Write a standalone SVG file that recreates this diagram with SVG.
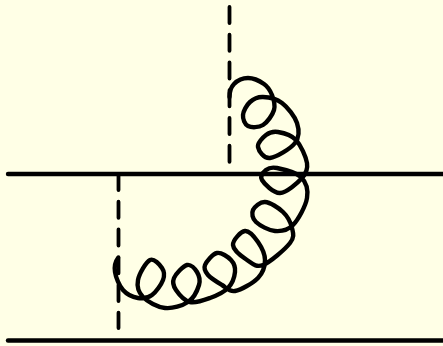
<svg xmlns="http://www.w3.org/2000/svg" width="443" height="346" viewBox="0 0 443 346">
<style>
.l{fill:none;stroke:#000;stroke-width:4.4;stroke-linecap:round;stroke-linejoin:round}
.d{stroke-width:3.8;stroke-dasharray:16 11.75}
</style>
<rect width="443" height="346" fill="#ffffe6"/>
<g id="connectors">
<path id="line-top" class="l" d="M8 174H445"/>
<path id="line-bottom" class="l" d="M8 340.5H445"/>
<path id="dash-upper" class="l d" d="M229.5 7V162"/>
<path id="dash-lower" class="l d" d="M118.5 174V328"/>
<path id="gluon" class="l" d="M229.5 97C229.5 93 230.9 87.2 234 84S243 78 248 78S260 81.2 264 84S270.3 90.7 272 95S275.5 105 274 110S267.3 122.3 263 125S251.3 127.7 248 126S242.7 119 243 115S246.7 105 250 102S257.7 96.8 263 97S276.3 98.7 282 103S294.8 116.3 297 123S299.5 137.2 295 143S276.2 157.3 270 158S258.7 150.8 258 147S262.7 137.5 266 135S273 131.2 278 132S291.2 134.8 296 140S306 156.7 307 163S306.5 173 302 178S286.7 192.7 280 193S264.3 183.8 262 180S263.5 172 266 170S271.2 166.8 277 168S296 172 301 177S308.3 190 307 198S298.3 219.5 293 225S281.2 231.5 275 231S259.7 225.5 256 222S251.5 213.3 253 210S260 201.7 265 202S278.5 207.7 283 212S290.8 222.8 292 228S294.8 236.8 290 243S270.2 262.2 263 265S252 263.3 247 260S233.3 249.8 233 245S240.8 231.5 245 231S254.7 237.2 258 242S265 254 265 260S263 272.8 258 278S241 289.8 235 291S226.5 287.7 222 285S210.8 278.3 208 275S203.5 268.7 205 265S212.7 253.8 217 253S228 256.8 231 260S235.5 267.3 235 272S232.2 283.7 228 288S216.3 295.7 210 298S195.7 303.3 190 302S178.7 294 176 290S172.2 282.2 174 278S183.2 266 187 265S195 268.7 197 272S200.5 280 199 285S193.7 298.2 188 302S172.5 308.8 165 308S147.5 301.7 143 297S136.8 286.2 138 280S146 262 150 260S159.8 264.7 162 268S164.7 275.5 163 280S156.2 292 152 295S142.8 298.8 138 298S126.8 294.3 123 290S115.8 277.3 115 272S115 262 118 258"/>
</g>
</svg>
